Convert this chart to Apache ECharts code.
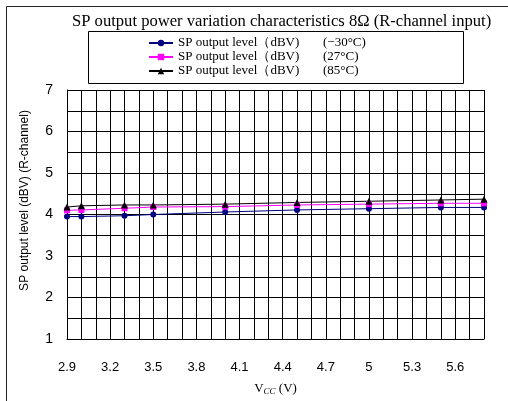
<!DOCTYPE html>
<html>
<head>
<meta charset="utf-8">
<script src="https://cdn.jsdelivr.net/npm/echarts@6/dist/echarts.min.js"></script>
<style>html,body{margin:0;padding:0;background:#fff}#c{width:508px;height:401px}</style>
</head>
<body>
<div id="c"></div>
<script>
var vcc = [2.9, 3.0, 3.3, 3.5, 4.0, 4.5, 5.0, 5.5, 5.8];
var levelMinus30 = [3.95, 3.95, 3.97, 4.00, 4.06, 4.11, 4.14, 4.17, 4.17];
var level27 = [4.10, 4.11, 4.15, 4.18, 4.19, 4.23, 4.25, 4.27, 4.27];
var level85 = [4.18, 4.21, 4.23, 4.23, 4.25, 4.29, 4.32, 4.35, 4.37];
var seriesNames = ['SP output level（dBV)|(−30°C)', 'SP output level（dBV)|(27°C)', 'SP output level（dBV)|(85°C)'];
var xTickLabels = ['2.9', '3.2', '3.5', '3.8', '4.1', '4.4', '4.7', '5', '5.3', '5.6'];
var yTickLabels = ['1', '2', '3', '4', '5', '6', '7'];

function pairs(ys) { return vcc.map(function (x, i) { return [x, ys[i]]; }); }

var chart = echarts.init(document.getElementById('c'), null, {renderer: 'canvas'});
var serif = '"Liberation Serif", "DejaVu Serif", serif';
var sans = '"Liberation Sans", Arial, sans-serif';
chart.setOption({
  animation: false,
  backgroundColor: '#fff',
  title: {
    text: 'SP output power variation characteristics 8Ω (R-channel input)',
    left: 67, top: 8,
    textStyle: {fontFamily: serif, fontSize: 16.6, fontWeight: 'normal', color: '#000'}
  },
  graphic: [
    {type: 'rect', shape: {x: 6.5, y: 6.5, width: 700, height: 700}, style: {fill: 'none', stroke: '#222', lineWidth: 1}, silent: true},
    {type: 'rect', shape: {x: 88.5, y: 31.5, width: 375, height: 52}, style: {fill: '#fff', stroke: '#000', lineWidth: 1}, silent: true, z: 0}
  ],
  legend: {
    orient: 'vertical', left: 148, top: 36, padding: 0,
    itemWidth: 24, itemHeight: 8, itemGap: 0,
    data: seriesNames,
    formatter: function (n) { var p = n.split('|'); return '{a|' + p[0] + '}{b|' + p[1] + '}'; },
    textStyle: {
      fontFamily: serif, fontSize: 13, color: '#000', lineHeight: 14,
      rich: {a: {width: 145, fontFamily: serif, fontSize: 13, lineHeight: 14}, b: {fontFamily: serif, fontSize: 13, lineHeight: 14}}
    },
    z: 5
  },
  grid: {left: 67, top: 90, width: 417, height: 257, containLabel: false},
  xAxis: {
    type: 'value', min: 2.9, max: 5.8, interval: 0.1,
    name: '{v|V}{s|CC} (V)', nameLocation: 'middle', nameGap: 42,
    nameTextStyle: {fontFamily: serif, fontSize: 13, color: '#000', rich: {v: {fontFamily: serif, fontSize: 13}, s: {fontFamily: serif, fontSize: 9, fontStyle: 'italic', verticalAlign: 'bottom', padding: [6, 0, 0, 0]}}},
    axisLine: {show: true, lineStyle: {color: '#000', width: 1}},
    axisTick: {show: false},
    splitLine: {show: true, lineStyle: {color: '#000', width: 1}},
    axisLabel: {
      fontFamily: sans, fontSize: 13, color: '#000', margin: 22,
      formatter: function (v) {
        var k = Math.round(v * 10) - 29;
        if (k % 3 !== 0) return '';
        var idx = k / 3;
        return xTickLabels[idx] || '';
      }
    }
  },
  yAxis: {
    type: 'value', min: 1, max: 7, interval: 0.5,
    name: 'SP output level (dBV) (R-channel)', nameLocation: 'middle', nameGap: 36,
    nameTextStyle: {fontFamily: sans, fontSize: 12, color: '#000', padding: [0, 0, 0, 28]},
    axisLine: {show: true, lineStyle: {color: '#000', width: 1}},
    axisTick: {show: false},
    splitLine: {show: true, lineStyle: {color: '#000', width: 1}},
    axisLabel: {
      fontFamily: sans, fontSize: 14, color: '#000', margin: 14,
      formatter: function (v) {
        if (Math.abs(v - Math.round(v)) > 1e-6) return '';
        return yTickLabels[Math.round(v) - 1] || '';
      }
    }
  },
  series: [
    {name: seriesNames[0], type: 'line', data: pairs(levelMinus30), symbol: 'circle', symbolSize: 6,
     lineStyle: {color: '#000080', width: 1}, itemStyle: {color: '#000080'}, z: 3},
    {name: seriesNames[1], type: 'line', data: pairs(level27), symbol: 'rect', symbolSize: 6,
     lineStyle: {color: '#ff00ff', width: 1}, itemStyle: {color: '#ff00ff'}, z: 3},
    {name: seriesNames[2], type: 'line', data: pairs(level85), symbol: 'triangle', symbolSize: 7,
     lineStyle: {color: '#000000', width: 1}, itemStyle: {color: '#000000'}, z: 3}
  ]
});
</script>
</body>
</html>
